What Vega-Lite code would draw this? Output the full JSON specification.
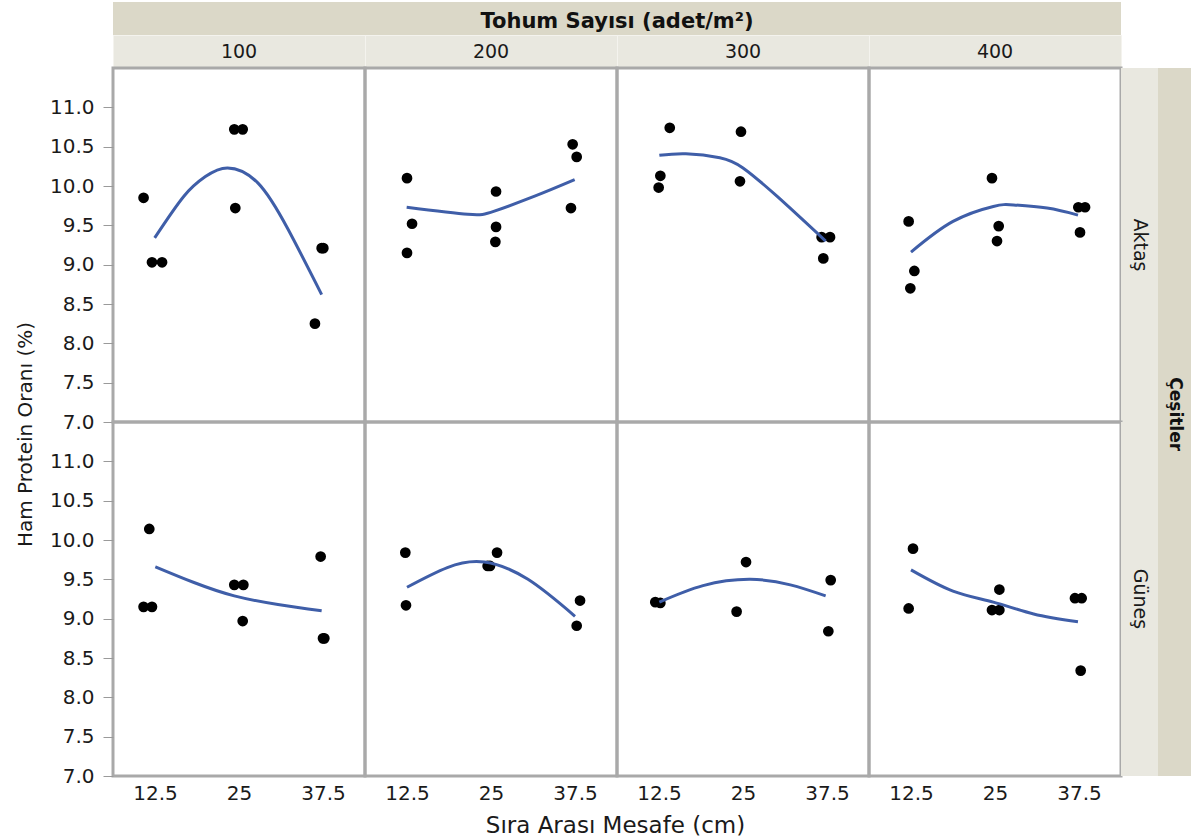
{
  "$schema": "https://vega.github.io/schema/vega-lite/v6.json",
  "background": "white",
  "padding": {"left": 13, "top": 2, "right": 4, "bottom": 2},
  "columns": 6,
  "spacing": 0,
  "bounds": "flush",
  "datasets": {
    "pts": [
      {"cesit": "Aktaş", "tohum": 100, "mesafe": 10.8, "hp": 9.85},
      {"cesit": "Aktaş", "tohum": 100, "mesafe": 12.05, "hp": 9.03},
      {"cesit": "Aktaş", "tohum": 100, "mesafe": 13.55, "hp": 9.03},
      {"cesit": "Aktaş", "tohum": 100, "mesafe": 24.3, "hp": 10.72},
      {"cesit": "Aktaş", "tohum": 100, "mesafe": 25.55, "hp": 10.72},
      {"cesit": "Aktaş", "tohum": 100, "mesafe": 24.45, "hp": 9.72},
      {"cesit": "Aktaş", "tohum": 100, "mesafe": 37.3, "hp": 9.21},
      {"cesit": "Aktaş", "tohum": 100, "mesafe": 37.55, "hp": 9.21},
      {"cesit": "Aktaş", "tohum": 100, "mesafe": 36.3, "hp": 8.25},
      {"cesit": "Aktaş", "tohum": 200, "mesafe": 12.5, "hp": 10.10},
      {"cesit": "Aktaş", "tohum": 200, "mesafe": 13.25, "hp": 9.52},
      {"cesit": "Aktaş", "tohum": 200, "mesafe": 12.5, "hp": 9.15},
      {"cesit": "Aktaş", "tohum": 200, "mesafe": 25.75, "hp": 9.93},
      {"cesit": "Aktaş", "tohum": 200, "mesafe": 25.75, "hp": 9.48},
      {"cesit": "Aktaş", "tohum": 200, "mesafe": 25.65, "hp": 9.29},
      {"cesit": "Aktaş", "tohum": 200, "mesafe": 37.15, "hp": 10.53},
      {"cesit": "Aktaş", "tohum": 200, "mesafe": 37.75, "hp": 10.37},
      {"cesit": "Aktaş", "tohum": 200, "mesafe": 36.9, "hp": 9.72},
      {"cesit": "Aktaş", "tohum": 300, "mesafe": 14.1, "hp": 10.74},
      {"cesit": "Aktaş", "tohum": 300, "mesafe": 12.7, "hp": 10.13},
      {"cesit": "Aktaş", "tohum": 300, "mesafe": 12.45, "hp": 9.98},
      {"cesit": "Aktaş", "tohum": 300, "mesafe": 24.7, "hp": 10.69},
      {"cesit": "Aktaş", "tohum": 300, "mesafe": 24.55, "hp": 10.06},
      {"cesit": "Aktaş", "tohum": 300, "mesafe": 36.7, "hp": 9.35},
      {"cesit": "Aktaş", "tohum": 300, "mesafe": 37.95, "hp": 9.35},
      {"cesit": "Aktaş", "tohum": 300, "mesafe": 36.95, "hp": 9.08},
      {"cesit": "Aktaş", "tohum": 400, "mesafe": 12.15, "hp": 9.55},
      {"cesit": "Aktaş", "tohum": 400, "mesafe": 13.0, "hp": 8.92},
      {"cesit": "Aktaş", "tohum": 400, "mesafe": 12.4, "hp": 8.70},
      {"cesit": "Aktaş", "tohum": 400, "mesafe": 24.55, "hp": 10.10},
      {"cesit": "Aktaş", "tohum": 400, "mesafe": 25.55, "hp": 9.49},
      {"cesit": "Aktaş", "tohum": 400, "mesafe": 25.3, "hp": 9.30},
      {"cesit": "Aktaş", "tohum": 400, "mesafe": 37.4, "hp": 9.73},
      {"cesit": "Aktaş", "tohum": 400, "mesafe": 38.4, "hp": 9.73},
      {"cesit": "Aktaş", "tohum": 400, "mesafe": 37.65, "hp": 9.41},
      {"cesit": "Güneş", "tohum": 100, "mesafe": 11.65, "hp": 10.14},
      {"cesit": "Güneş", "tohum": 100, "mesafe": 10.8, "hp": 9.15},
      {"cesit": "Güneş", "tohum": 100, "mesafe": 12.05, "hp": 9.15},
      {"cesit": "Güneş", "tohum": 100, "mesafe": 24.3, "hp": 9.43},
      {"cesit": "Güneş", "tohum": 100, "mesafe": 25.65, "hp": 9.43},
      {"cesit": "Güneş", "tohum": 100, "mesafe": 25.55, "hp": 8.97},
      {"cesit": "Güneş", "tohum": 100, "mesafe": 37.15, "hp": 9.79},
      {"cesit": "Güneş", "tohum": 100, "mesafe": 37.7, "hp": 8.75},
      {"cesit": "Güneş", "tohum": 100, "mesafe": 37.5, "hp": 8.75},
      {"cesit": "Güneş", "tohum": 200, "mesafe": 12.25, "hp": 9.84},
      {"cesit": "Güneş", "tohum": 200, "mesafe": 12.35, "hp": 9.17},
      {"cesit": "Güneş", "tohum": 200, "mesafe": 25.9, "hp": 9.84},
      {"cesit": "Güneş", "tohum": 200, "mesafe": 24.5, "hp": 9.67},
      {"cesit": "Güneş", "tohum": 200, "mesafe": 24.85, "hp": 9.67},
      {"cesit": "Güneş", "tohum": 200, "mesafe": 38.25, "hp": 9.23},
      {"cesit": "Güneş", "tohum": 200, "mesafe": 37.75, "hp": 8.91},
      {"cesit": "Güneş", "tohum": 300, "mesafe": 11.95, "hp": 9.21},
      {"cesit": "Güneş", "tohum": 300, "mesafe": 12.7, "hp": 9.20},
      {"cesit": "Güneş", "tohum": 300, "mesafe": 25.45, "hp": 9.72},
      {"cesit": "Güneş", "tohum": 300, "mesafe": 24.05, "hp": 9.09},
      {"cesit": "Güneş", "tohum": 300, "mesafe": 38.05, "hp": 9.49},
      {"cesit": "Güneş", "tohum": 300, "mesafe": 37.7, "hp": 8.84},
      {"cesit": "Güneş", "tohum": 400, "mesafe": 12.8, "hp": 9.89},
      {"cesit": "Güneş", "tohum": 400, "mesafe": 12.15, "hp": 9.13},
      {"cesit": "Güneş", "tohum": 400, "mesafe": 25.65, "hp": 9.37},
      {"cesit": "Güneş", "tohum": 400, "mesafe": 24.55, "hp": 9.11},
      {"cesit": "Güneş", "tohum": 400, "mesafe": 25.65, "hp": 9.11},
      {"cesit": "Güneş", "tohum": 400, "mesafe": 36.9, "hp": 9.26},
      {"cesit": "Güneş", "tohum": 400, "mesafe": 37.9, "hp": 9.26},
      {"cesit": "Güneş", "tohum": 400, "mesafe": 37.75, "hp": 8.34}
    ],
    "fit": [
      {"cesit": "Aktaş", "tohum": 100, "mesafe": 12.45, "hp": 9.34},
      {"cesit": "Aktaş", "tohum": 100, "mesafe": 16.8, "hp": 9.87},
      {"cesit": "Aktaş", "tohum": 100, "mesafe": 20.0, "hp": 10.12},
      {"cesit": "Aktaş", "tohum": 100, "mesafe": 23.3, "hp": 10.23},
      {"cesit": "Aktaş", "tohum": 100, "mesafe": 27.8, "hp": 10.04},
      {"cesit": "Aktaş", "tohum": 100, "mesafe": 32.3, "hp": 9.45},
      {"cesit": "Aktaş", "tohum": 100, "mesafe": 37.3, "hp": 8.62},
      {"cesit": "Aktaş", "tohum": 200, "mesafe": 12.45, "hp": 9.73},
      {"cesit": "Aktaş", "tohum": 200, "mesafe": 21.55, "hp": 9.64},
      {"cesit": "Aktaş", "tohum": 200, "mesafe": 25.5, "hp": 9.68},
      {"cesit": "Aktaş", "tohum": 200, "mesafe": 31.5, "hp": 9.87},
      {"cesit": "Aktaş", "tohum": 200, "mesafe": 37.45, "hp": 10.08},
      {"cesit": "Aktaş", "tohum": 300, "mesafe": 12.55, "hp": 10.39},
      {"cesit": "Aktaş", "tohum": 300, "mesafe": 16.5, "hp": 10.41},
      {"cesit": "Aktaş", "tohum": 300, "mesafe": 21.55, "hp": 10.36},
      {"cesit": "Aktaş", "tohum": 300, "mesafe": 25.0, "hp": 10.23},
      {"cesit": "Aktaş", "tohum": 300, "mesafe": 30.05, "hp": 9.87},
      {"cesit": "Aktaş", "tohum": 300, "mesafe": 37.3, "hp": 9.30},
      {"cesit": "Aktaş", "tohum": 400, "mesafe": 12.5, "hp": 9.16},
      {"cesit": "Aktaş", "tohum": 400, "mesafe": 18.75, "hp": 9.55},
      {"cesit": "Aktaş", "tohum": 400, "mesafe": 24.75, "hp": 9.74},
      {"cesit": "Aktaş", "tohum": 400, "mesafe": 27.75, "hp": 9.76},
      {"cesit": "Aktaş", "tohum": 400, "mesafe": 32.75, "hp": 9.72},
      {"cesit": "Aktaş", "tohum": 400, "mesafe": 37.35, "hp": 9.63},
      {"cesit": "Güneş", "tohum": 100, "mesafe": 12.55, "hp": 9.66},
      {"cesit": "Güneş", "tohum": 100, "mesafe": 18.3, "hp": 9.46},
      {"cesit": "Güneş", "tohum": 100, "mesafe": 24.3, "hp": 9.29},
      {"cesit": "Güneş", "tohum": 100, "mesafe": 30.8, "hp": 9.18},
      {"cesit": "Güneş", "tohum": 100, "mesafe": 37.3, "hp": 9.10},
      {"cesit": "Güneş", "tohum": 200, "mesafe": 12.5, "hp": 9.40},
      {"cesit": "Güneş", "tohum": 200, "mesafe": 18.5, "hp": 9.65},
      {"cesit": "Güneş", "tohum": 200, "mesafe": 24.0, "hp": 9.72},
      {"cesit": "Güneş", "tohum": 200, "mesafe": 30.5, "hp": 9.50},
      {"cesit": "Güneş", "tohum": 200, "mesafe": 37.5, "hp": 9.03},
      {"cesit": "Güneş", "tohum": 300, "mesafe": 12.55, "hp": 9.21},
      {"cesit": "Güneş", "tohum": 300, "mesafe": 19.05, "hp": 9.42},
      {"cesit": "Güneş", "tohum": 300, "mesafe": 26.05, "hp": 9.50},
      {"cesit": "Güneş", "tohum": 300, "mesafe": 32.05, "hp": 9.43},
      {"cesit": "Güneş", "tohum": 300, "mesafe": 37.3, "hp": 9.29},
      {"cesit": "Güneş", "tohum": 400, "mesafe": 12.5, "hp": 9.62},
      {"cesit": "Güneş", "tohum": 400, "mesafe": 18.75, "hp": 9.35},
      {"cesit": "Güneş", "tohum": 400, "mesafe": 24.75, "hp": 9.21},
      {"cesit": "Güneş", "tohum": 400, "mesafe": 30.75, "hp": 9.06},
      {"cesit": "Güneş", "tohum": 400, "mesafe": 37.35, "hp": 8.96}
    ]
  },
  "concat": [
    {"width": 252, "height": 33, "view": {"fill": "#dbd8c8", "stroke": null}, "data": {"values": [{}]}, "mark": "text", "encoding": {"text": {"value": ""}}},
    {"width": 252, "height": 33, "view": {"fill": "#dbd8c8", "stroke": null}, "data": {"values": [{}]}, "mark": "text", "encoding": {"text": {"value": ""}}},
    {"width": 252, "height": 33, "view": {"fill": "#dbd8c8", "stroke": null}, "data": {"values": [{}]}, "mark": "text", "encoding": {"text": {"value": ""}},
     "title": {"text": "Tohum Sayısı (adet/m²)", "orient": "top", "anchor": "start", "align": "center", "baseline": "middle", "offset": -41, "font": "DejaVu Sans", "fontSize": 21, "fontWeight": "bold", "color": "#111111"}},
    {"width": 252, "height": 33, "view": {"fill": "#dbd8c8", "stroke": null}, "data": {"values": [{}]}, "mark": "text", "encoding": {"text": {"value": ""}}},
    {"width": 37, "height": 33, "view": {"stroke": null}, "data": {"values": [{}]}, "mark": "text", "encoding": {"text": {"value": ""}}},
    {"width": 33, "height": 33, "view": {"stroke": null}, "data": {"values": [{}]}, "mark": "text", "encoding": {"text": {"value": ""}}},

    {"width": 252, "height": 33, "view": {"fill": "#e9e8e0", "stroke": "#f4f3ee", "strokeWidth": 1}, "data": {"values": [{"lab": "100"}]}, "mark": {"type": "text", "fontSize": 19, "color": "#1a1a1a"}, "encoding": {"text": {"field": "lab"}}},
    {"width": 252, "height": 33, "view": {"fill": "#e9e8e0", "stroke": "#f4f3ee", "strokeWidth": 1}, "data": {"values": [{"lab": "200"}]}, "mark": {"type": "text", "fontSize": 19, "color": "#1a1a1a"}, "encoding": {"text": {"field": "lab"}}},
    {"width": 252, "height": 33, "view": {"fill": "#e9e8e0", "stroke": "#f4f3ee", "strokeWidth": 1}, "data": {"values": [{"lab": "300"}]}, "mark": {"type": "text", "fontSize": 19, "color": "#1a1a1a"}, "encoding": {"text": {"field": "lab"}}},
    {"width": 252, "height": 33, "view": {"fill": "#e9e8e0", "stroke": "#f4f3ee", "strokeWidth": 1}, "data": {"values": [{"lab": "400"}]}, "mark": {"type": "text", "fontSize": 19, "color": "#1a1a1a"}, "encoding": {"text": {"field": "lab"}}},
    {"width": 37, "height": 33, "view": {"stroke": null}, "data": {"values": [{}]}, "mark": "text", "encoding": {"text": {"value": ""}}},
    {"width": 33, "height": 33, "view": {"stroke": null}, "data": {"values": [{}]}, "mark": "text", "encoding": {"text": {"value": ""}}},

    {"width": 252, "height": 354,
     "encoding": {
       "x": {"field": "mesafe", "type": "quantitative", "scale": {"domain": [6.25, 43.75], "nice": false, "zero": false}, "axis": null},
       "y": {"field": "hp", "type": "quantitative", "scale": {"domain": [7, 11.5], "nice": false, "zero": false}, "axis": {"values": [7, 7.5, 8, 8.5, 9, 9.5, 10, 10.5, 11], "format": ".1f", "title": null, "tickSize": 10, "labelPadding": 9}}
     },
     "layer": [
       {"data": {"name": "pts"}, "transform": [{"filter": "datum.cesit === 'Aktaş' && datum.tohum === 100"}], "mark": {"type": "circle", "size": 115, "color": "#000000", "opacity": 1}},
       {"data": {"name": "fit"}, "transform": [{"filter": "datum.cesit === 'Aktaş' && datum.tohum === 100"}], "mark": {"type": "line", "color": "#3f5ea8", "strokeWidth": 3, "interpolate": "natural"}}
     ]},
    {"width": 252, "height": 354,
     "encoding": {
       "x": {"field": "mesafe", "type": "quantitative", "scale": {"domain": [6.25, 43.75], "nice": false, "zero": false}, "axis": null},
       "y": {"field": "hp", "type": "quantitative", "scale": {"domain": [7, 11.5], "nice": false, "zero": false}, "axis": null}
     },
     "layer": [
       {"data": {"name": "pts"}, "transform": [{"filter": "datum.cesit === 'Aktaş' && datum.tohum === 200"}], "mark": {"type": "circle", "size": 115, "color": "#000000", "opacity": 1}},
       {"data": {"name": "fit"}, "transform": [{"filter": "datum.cesit === 'Aktaş' && datum.tohum === 200"}], "mark": {"type": "line", "color": "#3f5ea8", "strokeWidth": 3, "interpolate": "natural"}}
     ]},
    {"width": 252, "height": 354,
     "encoding": {
       "x": {"field": "mesafe", "type": "quantitative", "scale": {"domain": [6.25, 43.75], "nice": false, "zero": false}, "axis": null},
       "y": {"field": "hp", "type": "quantitative", "scale": {"domain": [7, 11.5], "nice": false, "zero": false}, "axis": null}
     },
     "layer": [
       {"data": {"name": "pts"}, "transform": [{"filter": "datum.cesit === 'Aktaş' && datum.tohum === 300"}], "mark": {"type": "circle", "size": 115, "color": "#000000", "opacity": 1}},
       {"data": {"name": "fit"}, "transform": [{"filter": "datum.cesit === 'Aktaş' && datum.tohum === 300"}], "mark": {"type": "line", "color": "#3f5ea8", "strokeWidth": 3, "interpolate": "natural"}}
     ]},
    {"width": 252, "height": 354,
     "encoding": {
       "x": {"field": "mesafe", "type": "quantitative", "scale": {"domain": [6.25, 43.75], "nice": false, "zero": false}, "axis": null},
       "y": {"field": "hp", "type": "quantitative", "scale": {"domain": [7, 11.5], "nice": false, "zero": false}, "axis": null}
     },
     "layer": [
       {"data": {"name": "pts"}, "transform": [{"filter": "datum.cesit === 'Aktaş' && datum.tohum === 400"}], "mark": {"type": "circle", "size": 115, "color": "#000000", "opacity": 1}},
       {"data": {"name": "fit"}, "transform": [{"filter": "datum.cesit === 'Aktaş' && datum.tohum === 400"}], "mark": {"type": "line", "color": "#3f5ea8", "strokeWidth": 3, "interpolate": "natural"}}
     ]},
    {"width": 37, "height": 354, "view": {"fill": "#e9e8e0", "stroke": null}, "data": {"values": [{"lab": "Aktaş"}]}, "mark": {"type": "text", "angle": 90, "fontSize": 19, "color": "#1a1a1a"}, "encoding": {"text": {"field": "lab"}}},
    {"width": 33, "height": 354, "view": {"fill": "#dbd8c8", "stroke": null}, "data": {"values": [{}]}, "mark": "text", "encoding": {"text": {"value": ""}}},

    {"width": 252, "height": 354,
     "encoding": {
       "x": {"field": "mesafe", "type": "quantitative", "scale": {"domain": [6.25, 43.75], "nice": false, "zero": false}, "axis": {"values": [12.5, 25, 37.5], "labelExpr": "datum.value", "ticks": false, "labelPadding": 7, "title": null}},
       "y": {"field": "hp", "type": "quantitative", "scale": {"domain": [7, 11.5], "nice": false, "zero": false}, "axis": {"values": [7, 7.5, 8, 8.5, 9, 9.5, 10, 10.5, 11], "format": ".1f", "title": "Ham Protein Oranı (%)", "titleY": 12, "titlePadding": 14, "tickSize": 10, "labelPadding": 9}}
     },
     "layer": [
       {"data": {"name": "pts"}, "transform": [{"filter": "datum.cesit === 'Güneş' && datum.tohum === 100"}], "mark": {"type": "circle", "size": 115, "color": "#000000", "opacity": 1}},
       {"data": {"name": "fit"}, "transform": [{"filter": "datum.cesit === 'Güneş' && datum.tohum === 100"}], "mark": {"type": "line", "color": "#3f5ea8", "strokeWidth": 3, "interpolate": "natural"}}
     ]},
    {"width": 252, "height": 354,
     "encoding": {
       "x": {"field": "mesafe", "type": "quantitative", "scale": {"domain": [6.25, 43.75], "nice": false, "zero": false}, "axis": {"values": [12.5, 25, 37.5], "labelExpr": "datum.value", "ticks": false, "labelPadding": 7, "title": "Sıra Arası Mesafe (cm)", "titleX": 250, "titlePadding": 11, "titleFontSize": 23}},
       "y": {"field": "hp", "type": "quantitative", "scale": {"domain": [7, 11.5], "nice": false, "zero": false}, "axis": null}
     },
     "layer": [
       {"data": {"name": "pts"}, "transform": [{"filter": "datum.cesit === 'Güneş' && datum.tohum === 200"}], "mark": {"type": "circle", "size": 115, "color": "#000000", "opacity": 1}},
       {"data": {"name": "fit"}, "transform": [{"filter": "datum.cesit === 'Güneş' && datum.tohum === 200"}], "mark": {"type": "line", "color": "#3f5ea8", "strokeWidth": 3, "interpolate": "natural"}}
     ]},
    {"width": 252, "height": 354,
     "encoding": {
       "x": {"field": "mesafe", "type": "quantitative", "scale": {"domain": [6.25, 43.75], "nice": false, "zero": false}, "axis": {"values": [12.5, 25, 37.5], "labelExpr": "datum.value", "ticks": false, "labelPadding": 7, "title": null}},
       "y": {"field": "hp", "type": "quantitative", "scale": {"domain": [7, 11.5], "nice": false, "zero": false}, "axis": null}
     },
     "layer": [
       {"data": {"name": "pts"}, "transform": [{"filter": "datum.cesit === 'Güneş' && datum.tohum === 300"}], "mark": {"type": "circle", "size": 115, "color": "#000000", "opacity": 1}},
       {"data": {"name": "fit"}, "transform": [{"filter": "datum.cesit === 'Güneş' && datum.tohum === 300"}], "mark": {"type": "line", "color": "#3f5ea8", "strokeWidth": 3, "interpolate": "natural"}}
     ]},
    {"width": 252, "height": 354,
     "encoding": {
       "x": {"field": "mesafe", "type": "quantitative", "scale": {"domain": [6.25, 43.75], "nice": false, "zero": false}, "axis": {"values": [12.5, 25, 37.5], "labelExpr": "datum.value", "ticks": false, "labelPadding": 7, "title": null}},
       "y": {"field": "hp", "type": "quantitative", "scale": {"domain": [7, 11.5], "nice": false, "zero": false}, "axis": null}
     },
     "layer": [
       {"data": {"name": "pts"}, "transform": [{"filter": "datum.cesit === 'Güneş' && datum.tohum === 400"}], "mark": {"type": "circle", "size": 115, "color": "#000000", "opacity": 1}},
       {"data": {"name": "fit"}, "transform": [{"filter": "datum.cesit === 'Güneş' && datum.tohum === 400"}], "mark": {"type": "line", "color": "#3f5ea8", "strokeWidth": 3, "interpolate": "natural"}}
     ]},
    {"width": 37, "height": 354, "view": {"fill": "#e9e8e0", "stroke": null}, "data": {"values": [{"lab": "Güneş"}]}, "mark": {"type": "text", "angle": 90, "fontSize": 19, "color": "#1a1a1a"}, "encoding": {"text": {"field": "lab"}}},
    {"width": 33, "height": 354, "view": {"fill": "#dbd8c8", "stroke": null}, "data": {"values": [{}]}, "mark": "text", "encoding": {"text": {"value": ""}},
     "title": {"text": "Çeşitler", "orient": "top", "anchor": "middle", "align": "center", "baseline": "middle", "angle": 90, "offset": -66, "font": "DejaVu Sans", "fontSize": 17, "fontWeight": "bold", "color": "#111111"}}
  ],
  "config": {
    "font": "DejaVu Sans",
    "view": {"stroke": "#a9a9a9", "strokeWidth": 3},
    "axis": {
      "grid": false,
      "domain": false,
      "labelFont": "DejaVu Sans",
      "labelFontSize": 20,
      "labelColor": "#1a1a1a",
      "tickColor": "#9a9a9a",
      "titleFont": "DejaVu Sans",
      "titleFontSize": 20,
      "titleFontWeight": "normal",
      "titleColor": "#1a1a1a"
    }
  }
}
